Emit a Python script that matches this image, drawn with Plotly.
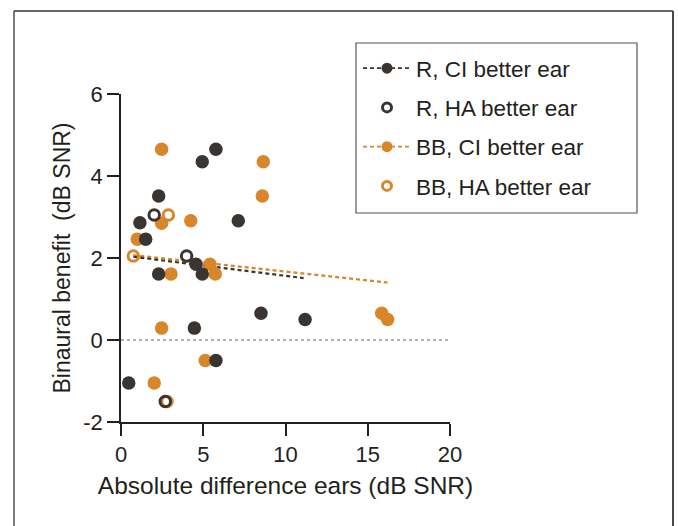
import plotly.graph_objects as go

# ---- data ----
r_ci_x = [0.47, 1.15, 1.50, 2.29, 2.29, 4.94, 5.77, 4.56, 4.94, 7.13, 4.46, 5.77, 8.51, 11.19]
r_ci_y = [-1.05, 2.86, 2.46, 3.51, 1.61, 4.35, 4.65, 1.85, 1.61, 2.91, 0.29, -0.50, 0.65, 0.50]

r_ha_x = [2.02, 3.99, 2.69]
r_ha_y = [3.05, 2.05, -1.50]

bb_ci_x = [2.47, 8.65, 8.59, 2.47, 4.24, 0.99, 5.41, 3.04, 5.73, 2.47, 5.12, 2.02, 15.85, 16.21]
bb_ci_y = [4.65, 4.35, 3.51, 2.85, 2.91, 2.46, 1.85, 1.61, 1.61, 0.29, -0.50, -1.05, 0.65, 0.50]

bb_ha_x = [2.88, 0.75, 2.80]
bb_ha_y = [3.05, 2.05, -1.50]

# regression lines (endpoints)
r_fit_x = [0.75, 11.1]
r_fit_y = [2.03, 1.51]
bb_fit_x = [0.75, 16.2]
bb_fit_y = [2.07, 1.40]

x_ticks = [0, 5, 10, 15, 20]
y_ticks = [-2, 0, 2, 4, 6]
y_ticktext = ["-2", "0", "2", "4", "6"]

legend_names = ["R, CI better ear", "R, HA better ear", "BB, CI better ear", "BB, HA better ear"]

DARK = "#3a3530"
ORANGE = "#d8862a"
TXT = "#231f20"
FONT = "Liberation Sans, Arial, sans-serif"

fig = go.Figure()

# fit lines
fig.add_trace(go.Scatter(x=bb_fit_x, y=bb_fit_y, mode="lines", showlegend=False,
                         line=dict(color=ORANGE, width=2.2, dash="4px,3px"), hoverinfo="skip"))
fig.add_trace(go.Scatter(x=r_fit_x, y=r_fit_y, mode="lines", showlegend=False,
                         line=dict(color=DARK, width=2.2, dash="4px,3px"), hoverinfo="skip"))

# data points (orange drawn below dark)
fig.add_trace(go.Scatter(x=bb_ha_x, y=bb_ha_y, mode="markers", showlegend=False, cliponaxis=False,
                         marker=dict(symbol="circle-open", size=10.5, color=ORANGE, line=dict(width=3, color=ORANGE))))
fig.add_trace(go.Scatter(x=bb_ci_x, y=bb_ci_y, mode="markers", showlegend=False, cliponaxis=False,
                         marker=dict(symbol="circle", size=13.5, color=ORANGE, line=dict(width=0))))
fig.add_trace(go.Scatter(x=r_ci_x, y=r_ci_y, mode="markers", showlegend=False, cliponaxis=False,
                         marker=dict(symbol="circle", size=13.5, color=DARK, line=dict(width=0))))
fig.add_trace(go.Scatter(x=r_ha_x, y=r_ha_y, mode="markers", showlegend=False, cliponaxis=False,
                         marker=dict(symbol="circle-open", size=10.5, color=DARK, line=dict(width=3, color=DARK))))

# legend entries
leg_specs = [
    (legend_names[0], "lines+markers", DARK, "circle"),
    (legend_names[1], "markers", DARK, "circle-open"),
    (legend_names[2], "lines+markers", ORANGE, "circle"),
    (legend_names[3], "markers", ORANGE, "circle-open"),
]
for i, (nm, md, col, sym) in enumerate(leg_specs):
    fig.add_trace(go.Scatter(
        x=[None], y=[None], mode=md, name=nm, legendgroup=nm, legendrank=i + 1,
        line=dict(color=col, width=1.8, dash="4px,3px"),
        marker=dict(symbol=sym, size=11 if sym == "circle" else 9, color=col,
                    line=dict(width=3 if sym == "circle-open" else 0, color=col)),
    ))

L, R, T, B = 121, 228, 94, 104
W, H = 678, 526
pw, ph = W - L - R, H - T - B

def px(x):
    return (x - L) / pw

def py(y):
    return (H - B - y) / ph

shapes = [
    # zero line
    dict(type="line", xref="x", yref="y", x0=0, x1=20, y0=0, y1=0,
         line=dict(color="#666", width=1, dash="dot"), layer="below"),
    # outer frame
    dict(type="line", xref="paper", yref="paper", x0=px(14), x1=px(14), y0=py(11), y1=py(540),
         line=dict(color="#333", width=1.3)),
    dict(type="line", xref="paper", yref="paper", x0=px(14), x1=px(673), y0=py(11), y1=py(11),
         line=dict(color="#333", width=1.3)),
    dict(type="line", xref="paper", yref="paper", x0=px(673), x1=px(673), y0=py(11), y1=py(540),
         line=dict(color="#4a4a4a", width=2)),
    # legend box
    dict(type="rect", xref="paper", yref="paper", x0=px(356), x1=px(637), y0=py(43), y1=py(213),
         line=dict(color="#555", width=1.2), fillcolor="rgba(0,0,0,0)"),
]

fig.update_layout(
    width=W, height=H,
    margin=dict(l=L, r=R, t=T, b=B, autoexpand=False),
    paper_bgcolor="white", plot_bgcolor="white",
    font=dict(family=FONT, color=TXT, size=22),
    shapes=shapes,
    showlegend=True,
    legend=dict(x=px(358), y=py(47), xanchor="left", yanchor="top",
                bgcolor="rgba(0,0,0,0)", borderwidth=0,
                font=dict(size=22.5, color=TXT), traceorder="grouped",
                tracegroupgap=7, itemwidth=48),
    xaxis=dict(range=[0, 20], tickvals=x_ticks, ticks="outside", ticklen=12, tickwidth=1.8,
               tickcolor=TXT, showline=True, linecolor=TXT, linewidth=1.8, showgrid=False,
               zeroline=False, tickfont=dict(size=22), automargin=False,
               title=dict(text="Absolute difference ears (dB SNR)", font=dict(size=24.5), standoff=11)),
    yaxis=dict(range=[-2, 6], tickvals=y_ticks, ticktext=y_ticktext, ticks="outside", ticklen=12,
               tickwidth=1.8, tickcolor=TXT, showline=True, linecolor=TXT, linewidth=1.8,
               showgrid=False, zeroline=False, tickfont=dict(size=22), automargin=False,
               title=dict(text="Binaural benefit  (dB SNR)", font=dict(size=23), standoff=6)),
)

fig.write_html("out.html", config={"displayModeBar": False},
               post_script="document.body.style.margin='0px';document.body.style.overflow='hidden';")
